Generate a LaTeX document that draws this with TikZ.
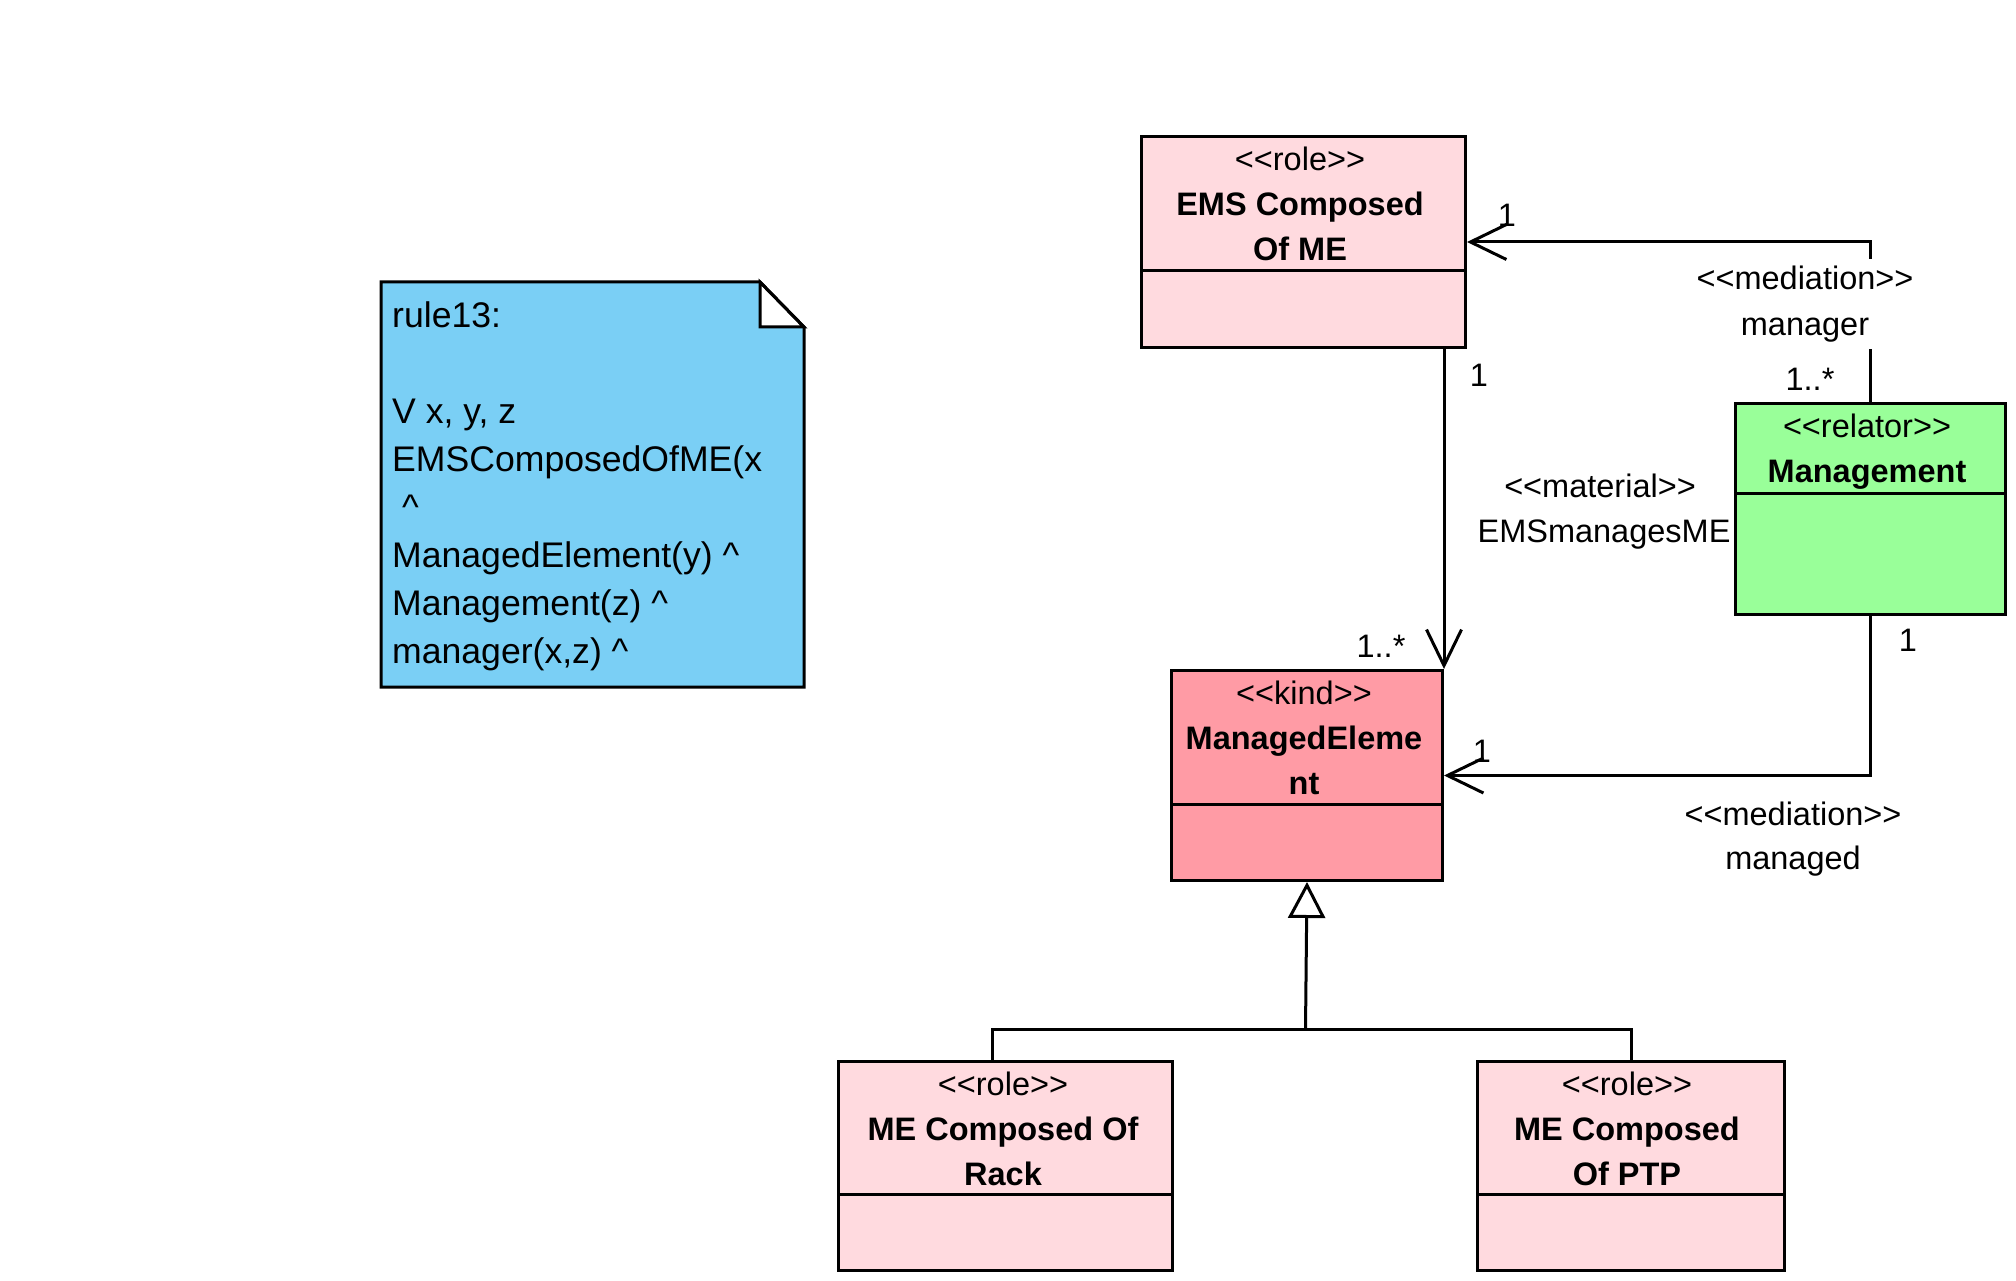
\documentclass[tikz,border=0pt]{standalone}
\usepackage{fontspec}
\setmainfont{Liberation Sans}
\usetikzlibrary{arrows.meta}
\definecolor{rolepink}{RGB}{255,218,223}
\definecolor{kindpink}{RGB}{255,155,165}
\definecolor{relgreen}{RGB}{153,255,153}
\definecolor{noteblue}{RGB}{122,207,245}
\newcommand{\lblfont}{\fontsize{32.5}{45}\selectfont}
\newcommand{\notefont}{\fontsize{35.6}{48}\selectfont}
\newcommand{\stl}{<\kern0pt<}
\newcommand{\stg}{>\kern0pt>}
\begin{document}
\begin{tikzpicture}[x=1pt,y=-1pt,
  cls/.style={draw, line width=3pt, inner sep=0pt, anchor=north west},
  divider/.style={line width=3pt},
  ctext/.style={anchor=north, align=center, inner sep=0pt, font=\lblfont},
  lbl/.style={inner sep=0pt, font=\lblfont, anchor=base},
  coverlbl/.style={lbl, fill=white, text height=23.3pt, text depth=7pt, inner ysep=7.35pt, inner xsep=4pt},
  assoc/.style={line width=3pt, -{Straight Barb[length=36pt,width=35pt]}},
  genl/.style={line width=3pt}]
\fill[white] (0,0) rectangle (2016,1281);
\useasboundingbox (0,0) rectangle (2016,1281);

% note
\fill[noteblue] (381,282) -- (760,282) -- (804,327) -- (804,687) -- (381,687) -- cycle;
\draw[line width=3pt, fill=white] (760,282) -- (760,327) -- (804,327) -- cycle;
\draw[line width=3pt] (381,282) -- (760,282) -- (804,327) -- (804,687) -- (381,687) -- cycle;
\node[anchor=north west, align=left, inner sep=0pt, font=\notefont] (notetext) at (392,301.5)
  {rule13:\\ \mbox{}\\ V x, y, z\\ EMSComposedOfME(x\\ \hspace*{9.9pt}\textasciicircum\\ ManagedElement(y) \textasciicircum\\ Management(z) \textasciicircum\\ manager(x,z) \textasciicircum};

% classes
\node[cls, fill=rolepink, minimum width=324pt, minimum height=211pt] (ems) at (1140,135) {};
\draw[divider] ([yshift=-136pt]ems.north west) -- ([yshift=-136pt]ems.north east);
\node[ctext] (emst) at (1300,146.7) {\stl role\stg\\\textbf{EMS Composed}\\\textbf{Of ME}};

\node[cls, fill=kindpink, minimum width=271pt, minimum height=210pt] (me) at (1170,669) {};
\draw[divider] ([yshift=-135pt]me.north west) -- ([yshift=-135pt]me.north east);
\node[ctext] (met) at (1304,680.7) {\stl kind\stg\\\textbf{ManagedEleme}\\\textbf{nt}};

\node[cls, fill=relgreen, minimum width=270pt, minimum height=211pt] (mgmt) at (1734,402) {};
\draw[divider] ([yshift=-91pt]mgmt.north west) -- ([yshift=-91pt]mgmt.north east);
\node[ctext] (mgmtt) at (1867,413.7) {\stl relator\stg\\\textbf{Management}};

\node[cls, fill=rolepink, minimum width=334pt, minimum height=209pt] (rack) at (837,1060) {};
\draw[divider] ([yshift=-134pt]rack.north west) -- ([yshift=-134pt]rack.north east);
\node[ctext] (rackt) at (1003,1071.7) {\stl role\stg\\\textbf{ME Composed Of}\\\textbf{Rack}};

\node[cls, fill=rolepink, minimum width=307pt, minimum height=209pt] (ptp) at (1476,1060) {};
\draw[divider] ([yshift=-134pt]ptp.north west) -- ([yshift=-134pt]ptp.north east);
\node[ctext] (ptpt) at (1627,1071.7) {\stl role\stg\\\textbf{ME Composed}\\\textbf{Of PTP}};

% connectors
\draw[assoc] (mgmt.north) |- (ems.east);
\draw[assoc] (ems.south -| me.north east) -- (me.north east);
\draw[assoc] (mgmt.south) |- (me.east);
\coordinate (gj) at (1305.5,1029);
\draw[genl, -{Triangle[open,length=36pt,width=37pt]}] (gj) -- (me.south);
\draw[genl] ([xshift=-13pt]rack.north) |- (gj) -| (ptp.north);

% labels
\node[coverlbl] (mgrst) at (1805,290) {\stl mediation\stg};
\node[coverlbl] (mgrname) at (1805,335) {manager};
\node[lbl] (matst) at (1600,497) {\stl material\stg};
\node[lbl] (matname) at (1604,542) {EMSmanagesME};
\node[lbl] (mgdst) at (1793,825) {\stl mediation\stg};
\node[lbl] (mgdname) at (1793,869) {managed};
\node[lbl] (m1) at (1507,227) {1};
\node[lbl] (m2) at (1479,386) {1};
\node[lbl] (m3) at (1810,390) {1..*};
\node[lbl] (m4) at (1381,657) {1..*};
\node[lbl] (m5) at (1908,651) {1};
\node[lbl] (m6) at (1482,762) {1};
\end{tikzpicture}
\end{document}
